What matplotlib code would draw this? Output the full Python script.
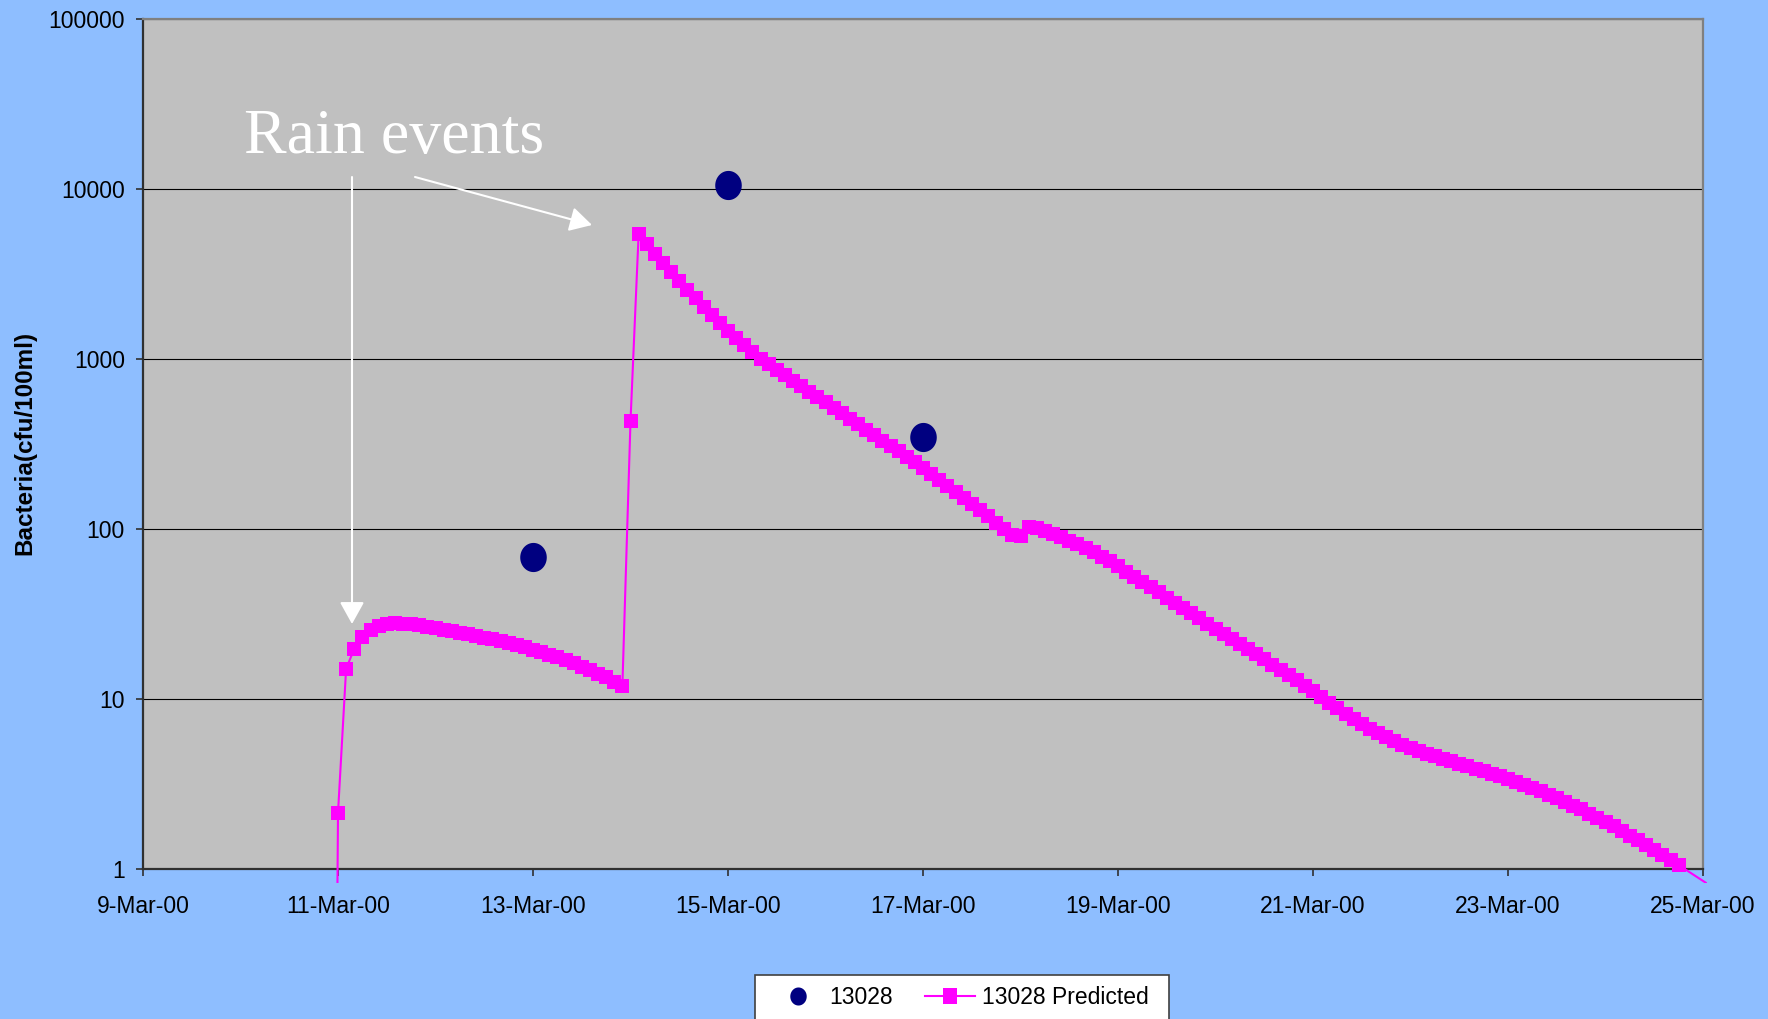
import datetime as dt
import numpy as np
import pandas as pd
import matplotlib
matplotlib.use("Agg")
import matplotlib.pyplot as plt
import matplotlib.dates as mdates
from matplotlib.path import Path
from matplotlib.patches import FancyArrowPatch, Rectangle
from matplotlib.lines import Line2D
from matplotlib.transforms import Bbox, TransformedBbox, IdentityTransform
from matplotlib.ticker import FixedLocator, FixedFormatter, NullLocator

# Measured samples at station 13028 (cfu/100ml)
obs_dates = ["2000-03-13", "2000-03-15", "2000-03-17"]
obs_values = [68, 10600, 350]

# Model output for station 13028, one value every two hours from 10-Mar-2000 22:00
pred_start = "2000-03-10 22:00"
pred_step = "2h"
pred_values = [
    0.000001,                                                                   # 10-Mar
    2.14, 15.1, 19.7, 23.2, 25.5, 27.0, 27.6, 27.9, 27.8, 27.5, 27.1, 26.6,     # 11-Mar
    26.1, 25.6, 25.1, 24.6, 24.1, 23.6, 23.0, 22.4, 21.9, 21.3, 20.7, 20.1,     # 12-Mar
    19.5, 18.9, 18.2, 17.6, 16.9, 16.2, 15.5, 14.8, 14.1, 13.4, 12.6, 11.9,     # 13-Mar
    431, 5430, 4750, 4170, 3670, 3240, 2870, 2550, 2270, 2030, 1820, 1630,      # 14-Mar
    1470, 1330, 1210, 1100, 1000, 929, 863, 802, 745, 692, 643, 597,            # 15-Mar
    555, 515, 479, 445, 413, 384, 356, 331, 308, 286, 265, 247,                 # 16-Mar
    229, 211, 195, 179, 165, 152, 140, 129, 119, 109, 100, 92.3,                # 17-Mar
    90.6, 103, 101, 97.3, 93.5, 89.5, 85.5, 81.3, 77.1, 72.8, 68.5, 64.4,       # 18-Mar
    60.4, 56.2, 52.5, 48.9, 45.5, 42.5, 39.5, 36.8, 34.4, 32.0, 29.8, 27.8,     # 19-Mar
    25.9, 24.2, 22.5, 21.0, 19.6, 18.3, 17.1, 15.9, 14.8, 13.8, 12.9, 12.0,     # 20-Mar
    11.2, 10.3, 9.53, 8.81, 8.17, 7.60, 7.11, 6.68, 6.31, 5.97, 5.66, 5.38,     # 21-Mar
    5.13, 4.93, 4.75, 4.59, 4.44, 4.30, 4.16, 4.03, 3.90, 3.77, 3.64, 3.51,     # 22-Mar
    3.38, 3.25, 3.12, 2.99, 2.86, 2.74, 2.61, 2.48, 2.36, 2.24, 2.12, 2.00,     # 23-Mar
    1.89, 1.78, 1.67, 1.57, 1.48, 1.38, 1.29, 1.21, 1.13, 1.05, 0.982, 0.914,   # 24-Mar
    0.851, 0.792,                                                               # 25-Mar
]

y_ticks = [1, 10, 100, 1000, 10000, 100000]
y_tick_labels = ["1", "10", "100", "1000", "10000", "100000"]
x_range = ["2000-03-09", "2000-03-25"]

series_names = ["13028", "13028 Predicted"]
annotation_text = "Rain events"
y_title = "Bacteria(cfu/100ml)"

# ---------------------------------------------------------------- styling
BG = "#8EBEFF"
PLOT_BG = "#C0C0C0"
NAVY = "#000080"
MAGENTA = "#FF00FF"
SANS = ["Liberation Sans", "DejaVu Sans"]
SERIF = ["Liberation Serif", "DejaVu Serif"]
FS = 16.5

W, H, DPI = 1768, 1019, 100
fig = plt.figure(figsize=(W / DPI, H / DPI), dpi=DPI, facecolor=BG)

L, R, T, B = 143, 1703, 19, 869
ax = fig.add_axes([L / W, 1 - B / H, (R - L) / W, (B - T) / H])
ax.set_facecolor(PLOT_BG)

obs_x = pd.to_datetime(obs_dates)
pred_x = pd.date_range(pred_start, periods=len(pred_values), freq=pred_step)
pred_y = np.array(pred_values)

# slightly oval markers
def oval_marker(aspect):
    t = np.linspace(0, 2 * np.pi, 60)
    verts = np.column_stack([aspect * np.cos(t), np.sin(t)])
    return Path(verts, closed=True)

def box_marker(aspect):
    verts = [(-aspect, -1), (aspect, -1), (aspect, 1), (-aspect, 1), (-aspect, -1)]
    return Path(verts, closed=True)

circ = oval_marker(0.91)
square = box_marker(0.9)

# predicted series: line, allowed to run a little past the plot frame
line, = ax.plot(pred_x, pred_y, color=MAGENTA, lw=1.5, zorder=3)
line.set_clip_box(TransformedBbox(Bbox.from_extents(0, -0.0165, 1.0026, 1), ax.transAxes))

shown = pred_y >= 1
ax.plot(pred_x[shown], pred_y[shown], ls="none", marker=square, ms=10.6,
        mfc=MAGENTA, mec=MAGENTA, mew=0, zorder=4, clip_on=False)

ax.plot(obs_x, obs_values, ls="none", marker=circ, ms=21, mfc=NAVY, mec=NAVY,
        mew=0, zorder=5, clip_on=False)

# axes
ax.set_yscale("log")
ax.set_ylim(y_ticks[0], y_ticks[-1])
ax.yaxis.set_major_locator(FixedLocator(y_ticks))
ax.yaxis.set_major_formatter(FixedFormatter(y_tick_labels))
ax.yaxis.set_minor_locator(NullLocator())

ax.set_xlim(pd.Timestamp(x_range[0]), pd.Timestamp(x_range[1]))
ax.xaxis.set_major_locator(mdates.DayLocator(interval=2))
ax.xaxis.set_major_formatter(mdates.DateFormatter("%-d-%b-%y"))
ax.xaxis.set_minor_locator(NullLocator())

ax.grid(axis="y", color="black", lw=0.8, zorder=1)
ax.set_axisbelow(True)

for side in ("left", "bottom"):
    ax.spines[side].set_color("#303030")
    ax.spines[side].set_linewidth(1.6)
for side in ("top", "right"):
    ax.spines[side].set_color("#808080")
    ax.spines[side].set_linewidth(1.6)

ax.tick_params(axis="both", direction="out", length=5, width=1.2, color="#303030")
ax.tick_params(axis="y", pad=8)
ax.tick_params(axis="x", pad=14)
for lab in ax.get_xticklabels() + ax.get_yticklabels():
    lab.set_family(SANS)
    lab.set_fontsize(FS)
    lab.set_color("black")

fig.text(25 / W, 1 - 443 / H, y_title, rotation=90, ha="center", va="center",
         fontsize=17.5, fontweight="bold", family=SANS)

# annotation
fig.text(244 / W, 1 - 152.7 / H, annotation_text, ha="left", va="baseline",
         fontsize=46, color="white", family=SERIF)

def pix_arrow(x0, y0, x1, y1):
    a = FancyArrowPatch((x0, H - y0), (x1, H - y1), transform=IdentityTransform(),
                        arrowstyle="-|>,head_length=13.5,head_width=7.5",
                        mutation_scale=1, shrinkA=0, shrinkB=0,
                        color="white", lw=1.5, zorder=10)
    fig.add_artist(a)

pix_arrow(352, 177, 352, 624)
pix_arrow(415, 177, 592, 225)

# legend
handles = [
    Line2D([], [], ls="none", marker=circ, ms=13, mfc=NAVY, mec=NAVY, mew=0),
    Line2D([], [], color=MAGENTA, lw=1.5, marker=square, ms=11, mfc=MAGENTA,
           mec=MAGENTA, mew=0),
]
fig.add_artist(Rectangle((755 / W, -0.05), (1169 - 755) / W, 0.05 + (H - 975) / H,
                         transform=fig.transFigure, facecolor="white",
                         edgecolor="#404040", lw=1.2, zorder=2))
leg = fig.legend(handles, series_names, loc="center left",
                 bbox_to_anchor=(772.7 / W, (H - 997.8) / H), ncol=2,
                 frameon=False, borderpad=0, borderaxespad=0,
                 handlelength=2.18, handletextpad=0.29, columnspacing=1.4,
                 prop={"family": SANS, "size": FS})
leg.set_zorder(3)

fig.savefig("out.png", dpi=DPI, facecolor=BG)
